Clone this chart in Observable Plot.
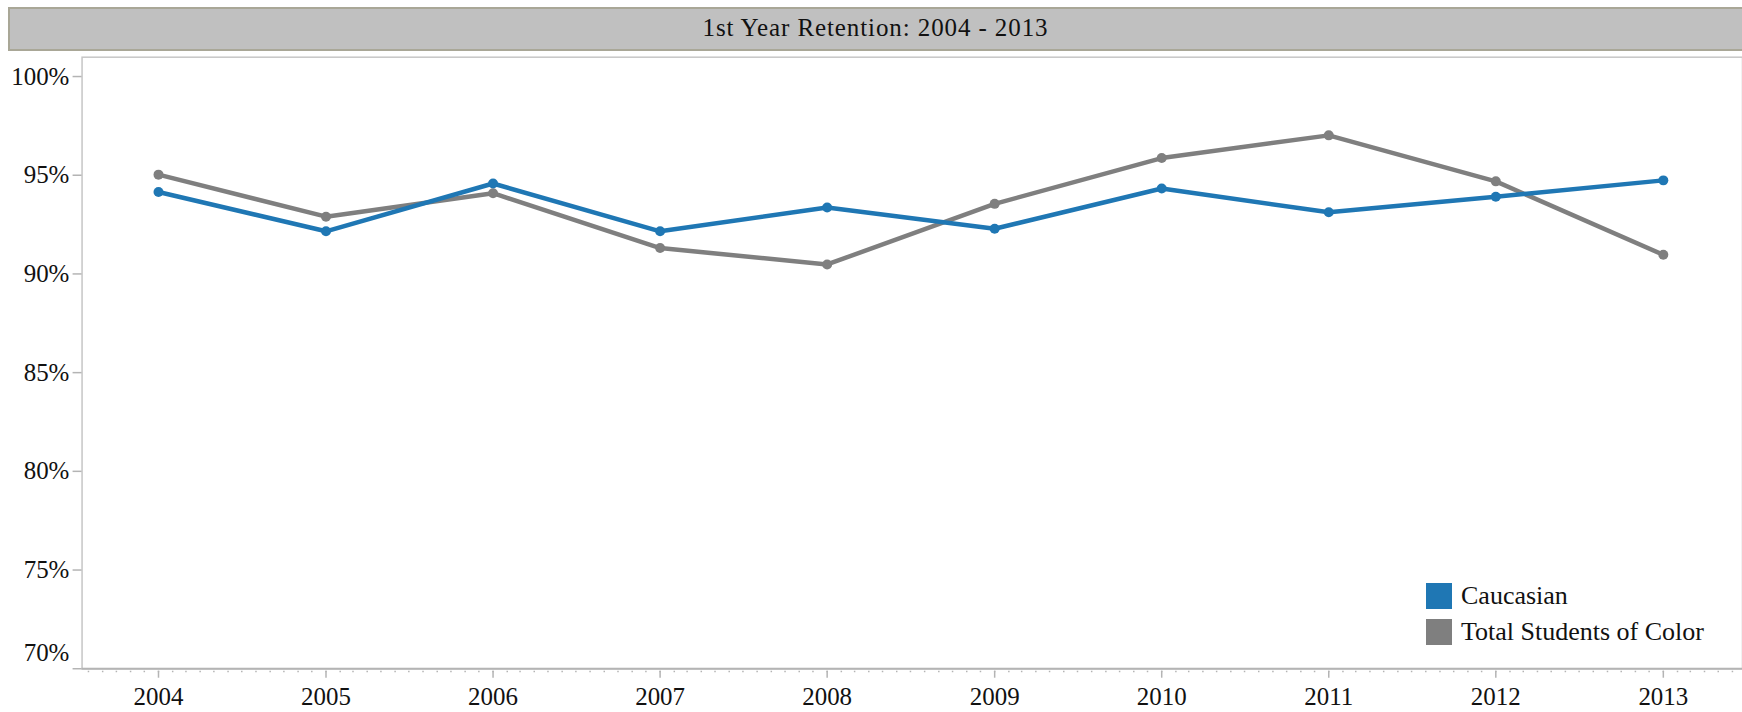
<!DOCTYPE html>
<html>
<head>
<meta charset="utf-8">
<script src="https://cdn.jsdelivr.net/npm/d3@7"></script>
<script src="https://cdn.jsdelivr.net/npm/@observablehq/plot@0.6"></script>
<style>
  html, body { margin: 0; padding: 0; background: #fff; }
  body { width: 1742px; height: 712px; overflow: hidden; position: relative; font-family: "Liberation Serif", serif; }
  #title {
    margin: 7px 0 0 8px; height: 44px; width: 1745px; box-sizing: border-box;
    background: #c0c0c0; border: 2px solid #a9a797;
    font-family: "Liberation Serif", serif; font-size: 25px; letter-spacing: 0.9px; color: #111;
    display: flex; align-items: center; justify-content: center; padding: 0 10px 2px 0;
  }
  #chart svg { display: block; }
  #legend { position: absolute; left: 1426px; top: 581px; width: 316px; }
  #legend .lg-swatches { font-family: "Liberation Serif", serif; font-size: 26px; color: #111; margin: 0; columns: auto !important; }
  #legend .lg-swatch { margin: 0 0 6px 0; padding: 0; height: 30px; line-height: 30px; overflow: visible; }
  #legend .lg-swatch * { overflow: visible !important; text-overflow: clip !important; }
  #legend .lg-swatch > svg { margin-right: 9px; flex: none; }
</style>
</head>
<body>
<div id="title">1st Year Retention: 2004 - 2013</div>
<div id="chart"></div>
<div id="legend"></div>
<script>
// ---- data ----
const years = [2004, 2005, 2006, 2007, 2008, 2009, 2010, 2011, 2012, 2013];
const caucasian = [94.15, 92.16, 94.58, 92.16, 93.37, 92.29, 94.33, 93.12, 93.91, 94.74];
const studentsOfColor = [95.03, 92.90, 94.09, 91.31, 90.48, 93.55, 95.87, 97.02, 94.69, 90.97];
const seriesNames = ["Caucasian", "Total Students of Color"];
const seriesColors = ["#1f77b4", "#7f7f7f"];
const yTicks = [70, 75, 80, 85, 90, 95, 100];

// ---- build tidy table ----
const toDate = y => new Date(Date.UTC(y, 0, 1));
const rows = [];
years.forEach((y, i) => rows.push({ year: toDate(y), value: studentsOfColor[i], series: seriesNames[1] }));
years.forEach((y, i) => rows.push({ year: toDate(y), value: caucasian[i], series: seriesNames[0] }));

const xDomain = [new Date(Date.UTC(2003, 6, 18)), new Date(Date.UTC(2013, 5, 23))];
const axisGray = "#b4b4b4";

const chart = Plot.plot({
  width: 1745,
  height: 661,
  marginLeft: 81.7,
  marginRight: 0,
  marginTop: 5.7,
  marginBottom: 42.7,
  style: { fontFamily: "Liberation Serif, serif", fontSize: "25px", color: "#111", background: "#fff" },
  x: { type: "utc", domain: xDomain, axis: null },
  y: { domain: [70, 100.98], axis: null },
  color: { domain: seriesNames, range: seriesColors },
  marks: [
    Plot.frame({ stroke: "#c6c6c6", strokeWidth: 1.5 }),
    // y tick marks
    Plot.axisY({ ticks: yTicks, tickSize: 9, text: null, label: null, stroke: axisGray, strokeWidth: 1.5 }),
    // y labels (70% is lifted inside the frame)
    Plot.axisY({ ticks: yTicks.filter(t => t > 70), tickSize: 0, tickPadding: 12.7, label: null, tickFormat: d => d + "%", fill: "#111" }),
    Plot.axisY({ ticks: [70], tickSize: 0, tickPadding: 12.7, label: null, tickFormat: d => d + "%", fill: "#111", dy: -16 }),
    // x axis: monthly minor ticks and yearly major ticks
    Plot.ruleY([70], { stroke: axisGray, strokeWidth: 2 }),
    Plot.axisX({ ticks: d3.utcMonth.every(1), tickSize: 1.5, dy: 2.5, text: null, label: null, stroke: axisGray, strokeWidth: 1.5 }),
    Plot.axisX({ ticks: years.map(toDate), tickSize: 7, dy: 2.5, text: null, label: null, stroke: axisGray, strokeWidth: 1.5 }),
    Plot.axisX({ ticks: years.map(toDate), tickSize: 0, tickPadding: 19, label: null, tickFormat: d3.utcFormat("%Y"), fill: "#111" }),
    // series
    Plot.line(rows, { x: "year", y: "value", z: "series", stroke: "series", strokeWidth: 4.5 }),
    Plot.dot(rows, { x: "year", y: "value", fill: "series", r: 5 })
  ]
});
document.getElementById("chart").appendChild(chart);

const legend = Plot.legend({
  color: { domain: seriesNames, range: seriesColors },
  legend: "swatches",
  columns: 1,
  swatchSize: 26,
  className: "lg"
});
document.getElementById("legend").appendChild(legend);
</script>
</body>
</html>
